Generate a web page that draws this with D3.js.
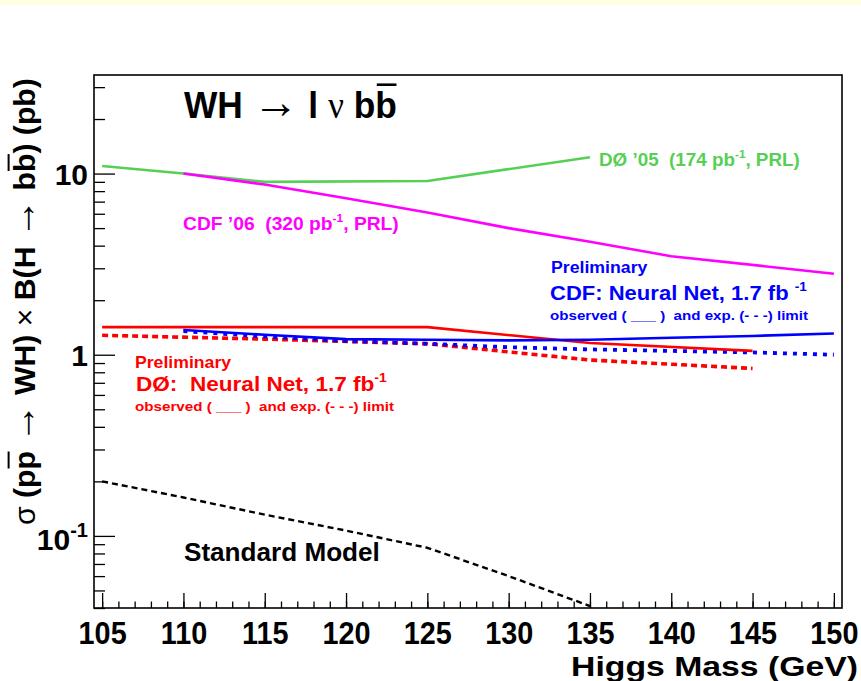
<!DOCTYPE html>
<html>
<head>
<meta charset="utf-8">
<script src="https://cdn.jsdelivr.net/npm/d3@7"></script>
<style>
  html, body { margin: 0; padding: 0; background: #fff; }
  svg { display: block; }
  text { font-family: "Liberation Sans", Arial, Helvetica, sans-serif; font-weight: bold; white-space: pre; }
</style>
</head>
<body>
<script>
// Higgs mass points (GeV) and 95% CL limits on sigma(ppbar -> WH) x B(H -> bbbar) in pb
const massTicks = [105, 110, 115, 120, 125, 130, 135, 140, 145, 150];

const d0Run2005Mass  = [105, 110, 115, 125, 135];
const d0Run2005Limit = [11.0, 10.0, 9.0, 9.1, 12.3];

const cdfRun2006Mass  = [110, 115, 120, 125, 130, 135, 140, 150];
const cdfRun2006Limit = [10.0, 8.7, 7.3, 6.1, 5.0, 4.2, 3.5, 2.8];

const cdfNNMass     = [110, 115, 120, 125, 130, 135, 140, 145, 150];
const cdfNNObserved = [1.37, 1.29, 1.22, 1.21, 1.20, 1.21, 1.24, 1.27, 1.31];
const cdfNNExpected = [1.35, 1.26, 1.19, 1.15, 1.10, 1.07, 1.05, 1.03, 1.00];

const d0NNMass     = [105, 115, 125, 135, 145];
const d0NNObserved = [1.42, 1.42, 1.42, 1.16, 1.05];
const d0NNExpected = [1.28, 1.22, 1.15, 0.935, 0.84];

const smMass       = [105, 110, 115, 120, 125, 130, 135];
const smPrediction = [0.20, 0.163, 0.131, 0.107, 0.086, 0.060, 0.041];

const yMajorTicks = [0.1, 1, 10];
const yMinorTicks = [0.04, 0.05, 0.06, 0.07, 0.08, 0.09,
                     0.2, 0.3, 0.4, 0.5, 0.6, 0.7, 0.8, 0.9,
                     2, 3, 4, 5, 6, 7, 8, 9, 20, 30];

const W = 861, H = 681;
const frame = { left: 94, right: 842, top: 75, bottom: 608 };

const svg = d3.select("body").append("svg").attr("width", W).attr("height", H);

// pale strip along the top of the canvas
svg.append("rect").attr("x", 0).attr("y", 0).attr("width", W).attr("height", 5).attr("fill", "#ffffe0");

const x = d3.scaleLinear().domain([104.5, 150.5]).range([frame.left, frame.right]);
const y = d3.scaleLog().domain([0.04, 35]).range([frame.bottom, frame.top]);

svg.append("defs").append("clipPath").attr("id", "plotClip")
  .append("rect").attr("x", frame.left).attr("y", frame.top)
  .attr("width", frame.right - frame.left).attr("height", frame.bottom - frame.top);

// ---- axes: ticks drawn inward -------------------------------------------
const xMinor = d3.axisBottom(x).tickValues(d3.range(105, 151, 1)).tickSize(-6.5).tickFormat("");
const xMajor = d3.axisBottom(x).tickValues(massTicks).tickSize(-15).tickFormat(d3.format("d"));
const yMinor = d3.axisLeft(y).tickValues(yMinorTicks).tickSize(-11).tickFormat("");
const yMajor = d3.axisLeft(y).tickValues(yMajorTicks).tickSize(-21).tickFormat("");

function styleAxis(g) {
  g.select(".domain").remove();
  g.selectAll(".tick line").attr("stroke", "#000").attr("stroke-width", 1.3);
}
svg.append("g").attr("transform", `translate(0,${frame.bottom})`).call(xMinor).call(styleAxis);
const gx = svg.append("g").attr("transform", `translate(0,${frame.bottom})`).call(xMajor).call(styleAxis);
gx.selectAll(".tick text")
  .attr("y", 36).attr("dy", null).attr("x", 0)
  .attr("transform", "scale(0.9,1)")
  .attr("fill", "#000")
  .style("font-family", '"Liberation Sans", Arial, sans-serif')
  .style("font-weight", "bold")
  .style("font-size", "32px");
svg.append("g").attr("transform", `translate(${frame.left},0)`).call(yMinor).call(styleAxis);
svg.append("g").attr("transform", `translate(${frame.left},0)`).call(yMajor).call(styleAxis);

// y tick labels 10^1, 10^0, 10^-1
const yLabels = svg.append("g");
yLabels.append("text").attr("x", 88).attr("y", y(10) + 11).attr("text-anchor", "end")
  .style("font-size", "30px").text("10");
yLabels.append("text").attr("x", 88).attr("y", y(1) + 11).attr("text-anchor", "end")
  .style("font-size", "30px").text("1");
const tenth = yLabels.append("text").attr("x", 88).attr("y", y(0.1) + 14).attr("text-anchor", "end")
  .style("font-size", "30px");
tenth.append("tspan").text("10");
tenth.append("tspan").attr("dy", -13).style("font-size", "20px").text("-1");

// ---- curves -----------------------------------------------------------
const plot = svg.append("g").attr("clip-path", "url(#plotClip)");
const line = d3.line().x(d => x(d[0])).y(d => y(d[1]));
function curve(mass, vals, color, width, dash) {
  plot.append("path")
    .datum(d3.zip(mass, vals))
    .attr("d", line)
    .attr("fill", "none")
    .attr("stroke", color)
    .attr("stroke-width", width)
    .attr("stroke-dasharray", dash || null)
    .attr("stroke-linejoin", "round");
}
curve(smMass, smPrediction, "#000", 2.4, "6,4");
curve(d0Run2005Mass, d0Run2005Limit, "#55d055", 2.6);
curve(cdfRun2006Mass, cdfRun2006Limit, "#ff00ff", 2.6);
curve(d0NNMass, d0NNExpected, "#ff0000", 3.6, "6,4");
curve(cdfNNMass, cdfNNExpected, "#0000ff", 3.8, "4,6");
curve(d0NNMass, d0NNObserved, "#ff0000", 2.6);
curve(cdfNNMass, cdfNNObserved, "#0000ff", 2.6);

// frame
svg.append("rect").attr("x", frame.left).attr("y", frame.top)
  .attr("width", frame.right - frame.left).attr("height", frame.bottom - frame.top)
  .attr("fill", "none").attr("stroke", "#000").attr("stroke-width", 1.6);

// ---- text helpers ---------------------------------------------------------
// parts: strings, or [string, kind] where kind is "sup", "thin", "arrow" or "serif"
function label(opts) {
  const g = svg.append("g");
  const t = g.append("text")
    .attr("x", opts.x).attr("y", opts.y)
    .attr("text-anchor", opts.anchor || "start")
    .attr("fill", opts.color || "#000")
    .style("font-size", opts.size + "px");
  let raised = false;
  opts.parts.forEach(p => {
    const [s, kind] = Array.isArray(p) ? p : [p];
    const ts = t.append("tspan").text(s);
    if (kind === "sup") {
      ts.attr("dy", -opts.size * 0.45).style("font-size", (opts.size * 0.62) + "px");
      raised = true;
    } else if (raised) {
      ts.attr("dy", opts.size * 0.45);
      raised = false;
    }
    if (kind === "thin") ts.style("font-weight", "normal");
    if (kind === "arrow") ts.style("font-weight", "normal").style("font-size", (opts.size * 1.3) + "px");
    if (kind === "serif") ts.style("font-weight", "normal").style("font-family", '"Liberation Serif", "DejaVu Serif", serif');
  });
  if (opts.width) {
    const w = t.node().getBBox().width;
    const s = opts.width / w;
    g.attr("transform", `translate(${opts.x},0) scale(${s},1) translate(${-opts.x},0)`);
  }
  if (opts.overline) {
    opts.overline.forEach(i => {
      const node = t.node();
      const a = node.getStartPositionOfChar(i);
      const b = node.getEndPositionOfChar(i);
      g.append("line")
        .attr("x1", a.x + 1.5).attr("x2", b.x - 0.5)
        .attr("y1", opts.y - opts.size * 0.9).attr("y2", opts.y - opts.size * 0.9)
        .attr("stroke", opts.color || "#000").attr("stroke-width", opts.size * 0.07);
    });
  }
  return g;
}

// title: WH -> l nu b bbar
label({ x: 184, y: 118, size: 37, width: 213,
  parts: ["WH ", ["\u2192", "arrow"], " l ", ["\u03bd", "serif"], " bb"], overline: [10] });

// previous limits
label({ x: 599, y: 166.5, size: 18.5, color: "#55d055", width: 201,
  parts: ["D\u00d8 \u201905  (174 pb", ["-1", "sup"], ", PRL)"] });
label({ x: 183, y: 230, size: 18.5, color: "#ff00ff", width: 216,
  parts: ["CDF \u201906  (320 pb", ["-1", "sup"], ", PRL)"] });

// CDF neural-net result
label({ x: 551, y: 273.5, size: 17, color: "#0000ff", width: 97, parts: ["Preliminary"] });
label({ x: 550, y: 300, size: 21, color: "#0000ff", width: 257,
  parts: ["CDF: Neural Net, 1.7 fb ", ["-1", "sup"]] });
label({ x: 550, y: 320, size: 13.5, color: "#0000ff", width: 259,
  parts: ["observed ( ___ )  and exp. (- - -) limit"] });

// D0 neural-net result
label({ x: 135, y: 368.5, size: 16.5, color: "#ff0000", width: 97, parts: ["Preliminary"] });
label({ x: 136, y: 391, size: 21, color: "#ff0000", width: 251,
  parts: ["D\u00d8:  Neural Net, 1.7 fb", ["-1", "sup"]] });
label({ x: 135, y: 411.5, size: 13.5, color: "#ff0000", width: 260,
  parts: ["observed ( ___ )  and exp. (- - -) limit"] });

label({ x: 184, y: 561.5, size: 26, width: 196, parts: ["Standard Model"] });

// x axis title
label({ x: 858, y: 676, size: 28, anchor: "end", width: 287, parts: ["Higgs Mass (GeV)"] });

// rotated y title
{
  const g = svg.append("g").attr("transform", "translate(35,525) rotate(-90)");
  const size = 30;
  const inner = g.append("g");
  const t = inner.append("text").attr("x", 0).attr("y", 0).style("font-size", size + "px");
  const txt = [["\u03c3", "thin"], [" (pp ", null], ["\u2192", "arrow"], [" WH) ", null], ["\u00d7", "thin"],
               [" B(H ", null], ["\u2192", "arrow"], [" bb) (pb)", null]];
  txt.forEach(([s, k]) => {
    const ts = t.append("tspan").text(s);
    if (k === "thin") ts.style("font-weight", "normal");
    if (k === "arrow") ts.style("font-weight", "normal").style("font-size", (size * 1.3) + "px");
  });
  const w = t.node().getBBox().width;
  inner.attr("transform", `scale(${447 / w},1)`);
  const full = txt.map(d => d[0]).join("");
  const overIdx = [full.indexOf("pp") + 1, full.indexOf("bb)") + 1];
  overIdx.forEach(i => {
    const a = t.node().getStartPositionOfChar(i);
    const b = t.node().getEndPositionOfChar(i);
    inner.append("line").attr("x1", a.x + 1).attr("x2", b.x - 0.5)
      .attr("y1", -size * 0.88).attr("y2", -size * 0.88)
      .attr("stroke", "#000").attr("stroke-width", 2);
  });
}
</script>
</body>
</html>
